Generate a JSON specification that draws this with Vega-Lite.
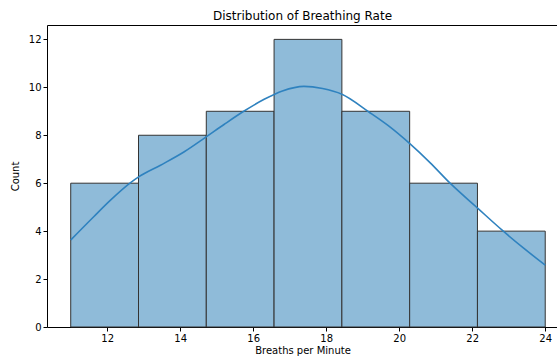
{
  "$schema": "https://vega.github.io/schema/vega-lite/v6.json",
  "autosize": {"type": "none"},
  "width": 511,
  "height": 302,
  "padding": {"left": 47, "top": 25, "right": 0, "bottom": 29},
  "config": {
    "font": "DejaVu Sans",
    "view": {"stroke": "#000", "strokeWidth": 1},
    "axis": {
      "grid": false,
      "domain": false,
      "tickColor": "#000",
      "tickSize": 4,
      "labelColor": "#000",
      "labelFontSize": 10,
      "titleFontSize": 10,
      "titleFontWeight": "normal",
      "titleColor": "#000",
      "labelFont": "DejaVu Sans",
      "titleFont": "DejaVu Sans"
    },
    "title": {"fontSize": 12, "fontWeight": "normal", "font": "DejaVu Sans", "color": "#000", "offset": 2}
  },
  "title": "Distribution of Breathing Rate",
  "datasets": {
    "bins": [
      {"bin_start": 11.0, "bin_end": 12.857, "count": 6},
      {"bin_start": 12.857, "bin_end": 14.714, "count": 8},
      {"bin_start": 14.714, "bin_end": 16.571, "count": 9},
      {"bin_start": 16.571, "bin_end": 18.429, "count": 12},
      {"bin_start": 18.429, "bin_end": 20.286, "count": 9},
      {"bin_start": 20.286, "bin_end": 22.143, "count": 6},
      {"bin_start": 22.143, "bin_end": 24.0, "count": 4}
    ],
    "kde": [
      {"x": 11.0, "y": 3.63},
      {"x": 11.63, "y": 4.6},
      {"x": 12.09, "y": 5.29},
      {"x": 12.64, "y": 6.02},
      {"x": 12.86, "y": 6.26},
      {"x": 13.46, "y": 6.75},
      {"x": 14.1, "y": 7.3},
      {"x": 14.71, "y": 7.93},
      {"x": 15.2, "y": 8.45},
      {"x": 15.74, "y": 9.0},
      {"x": 16.3, "y": 9.5},
      {"x": 16.8, "y": 9.85},
      {"x": 17.39, "y": 10.04},
      {"x": 17.9, "y": 9.95},
      {"x": 18.43, "y": 9.71},
      {"x": 19.17, "y": 8.97},
      {"x": 19.7, "y": 8.4},
      {"x": 20.29, "y": 7.65},
      {"x": 20.85, "y": 6.85},
      {"x": 21.4, "y": 5.99},
      {"x": 22.14, "y": 4.97},
      {"x": 22.82, "y": 4.04},
      {"x": 23.4, "y": 3.3},
      {"x": 24.0, "y": 2.58}
    ]
  },
  "layer": [
    {
      "data": {"name": "bins"},
      "mark": {"type": "rect", "fill": "#8fbbd9", "stroke": "#333", "strokeWidth": 1},
      "encoding": {
        "x": {
          "field": "bin_start", "type": "quantitative",
          "scale": {"domain": [10.35, 24.35], "nice": false, "zero": false},
          "axis": {"values": [12, 14, 16, 18, 20, 22, 24], "title": "Breaths per Minute", "titlePadding": 2}
        },
        "x2": {"field": "bin_end"},
        "y": {
          "field": "count", "type": "quantitative",
          "scale": {"domain": [0, 12.6], "nice": false},
          "axis": {"values": [0, 2, 4, 6, 8, 10, 12], "title": "Count", "titlePadding": 8}
        },
        "y2": {"datum": 0}
      }
    },
    {
      "data": {"name": "kde"},
      "mark": {"type": "line", "color": "#2f82bf", "strokeWidth": 1.6, "interpolate": "monotone"},
      "encoding": {
        "x": {"field": "x", "type": "quantitative"},
        "y": {"field": "y", "type": "quantitative"}
      }
    }
  ]
}
